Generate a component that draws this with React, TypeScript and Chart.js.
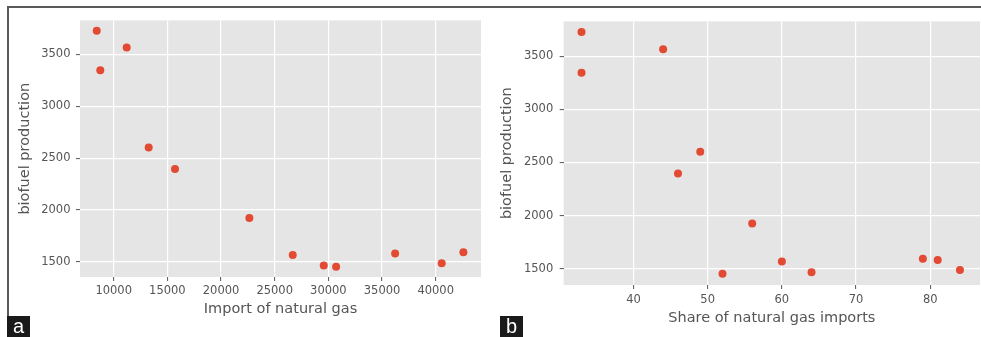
import React, { useEffect, useRef } from "react";
import { Chart, registerables } from "chart.js";

Chart.register(...registerables);

// ---- Data ----
const yValues = [3729, 3347, 3567, 2602, 2395, 1924, 1567, 1466, 1452, 1580, 1487, 1593];
const importGas = [8420, 8750, 11210, 13260, 15710, 22640, 26680, 29570, 30720, 36220, 40560, 42580];
const shareImports = [33, 33, 44, 49, 46, 56, 60, 64, 52, 81, 84, 79];

const xTicksA = [10000, 15000, 20000, 25000, 30000, 35000, 40000];
const xTicksB = [40, 50, 60, 70, 80];
const yTicks = [1500, 2000, 2500, 3000, 3500];

const xTitleA = "Import of natural gas";
const xTitleB = "Share of natural gas imports";
const yTitle = "biofuel production";

const BG = "#E5E5E5";
const DOT = "#E24A33";
const TXT = "#555555";
const FONT = "'DejaVu Sans', sans-serif";

const bgPlugin = {
  id: "ggbg",
  beforeDraw(chart: any) {
    const { ctx, chartArea } = chart;
    ctx.save();
    ctx.fillStyle = BG;
    ctx.fillRect(chartArea.left, chartArea.top, chartArea.right - chartArea.left, chartArea.bottom - chartArea.top);
    ctx.restore();
  },
};

type Cfg = {
  xs: number[];
  xTicks: number[];
  xMin: number;
  xMax: number;
  yMin: number;
  yMax: number;
  xTitle: string;
  padTop: number;
  padRight: number;
  yWidth: number;
  xHeight: number;
  xTitlePadBottom: number;
  xTickPad: number;
  yTickPad: number;
};

function makeChart(canvas: HTMLCanvasElement, c: Cfg) {
  return new Chart(canvas, {
    type: "scatter",
    data: {
      datasets: [
        {
          data: c.xs.map((x, i) => ({ x, y: yValues[i] })),
          backgroundColor: DOT,
          borderColor: DOT,
          borderWidth: 0,
          pointRadius: 4,
          pointHoverRadius: 4,
        },
      ],
    },
    options: {
      responsive: false,
      animation: false,
      devicePixelRatio: 1,
      layout: { autoPadding: false, padding: { top: c.padTop, right: c.padRight, left: 0, bottom: 0 } },
      plugins: { legend: { display: false }, tooltip: { enabled: false } },
      scales: {
        x: {
          type: "linear",
          min: c.xMin,
          max: c.xMax,
          afterBuildTicks: (s: any) => {
            s.ticks = c.xTicks.map((v) => ({ value: v }));
          },
          afterFit: (s: any) => {
            s.height = c.xHeight;
          },
          border: { display: false },
          grid: { color: "#FFFFFF", lineWidth: 1.2, tickColor: TXT, tickLength: 4, tickWidth: 1 },
          ticks: {
            autoSkip: false,
            maxRotation: 0,
            padding: c.xTickPad,
            color: TXT,
            font: { family: FONT, size: 11.5 },
            callback: (v: any) => String(v),
          },
          title: {
            display: true,
            text: c.xTitle,
            color: TXT,
            font: { family: FONT, size: 14.5 },
            padding: { top: 0, bottom: c.xTitlePadBottom },
          },
        },
        y: {
          type: "linear",
          min: c.yMin,
          max: c.yMax,
          afterBuildTicks: (s: any) => {
            s.ticks = yTicks.map((v) => ({ value: v }));
          },
          afterFit: (s: any) => {
            s.width = c.yWidth;
          },
          border: { display: false },
          grid: { color: "#FFFFFF", lineWidth: 1.2, tickColor: TXT, tickLength: 4, tickWidth: 1 },
          ticks: {
            autoSkip: false,
            padding: c.yTickPad,
            color: TXT,
            font: { family: FONT, size: 11.5 },
            callback: (v: any) => String(v),
          },
          title: {
            display: true,
            text: yTitle,
            color: TXT,
            font: { family: FONT, size: 14.5 },
            padding: { top: 8.3, bottom: 0 },
          },
        },
      },
    },
    plugins: [bgPlugin],
  } as any);
}

function Panel(props: { left: number; width: number; cfg: Cfg }) {
  const ref = useRef<HTMLCanvasElement>(null);
  useEffect(() => {
    if (!ref.current) return;
    const ch = makeChart(ref.current, props.cfg);
    return () => ch.destroy();
  }, []);
  return (
    <canvas
      ref={ref}
      width={props.width}
      height={329}
      style={{ position: "absolute", left: props.left, top: 8, width: props.width, height: 329 }}
    />
  );
}

const cfgA: Cfg = {
  xs: importGas,
  xTicks: xTicksA,
  xMin: 6860,
  xMax: 44220,
  yMin: 1354,
  yMax: 3828,
  xTitle: xTitleA,
  padTop: 10,
  padRight: 9,
  yWidth: 72,
  xHeight: 60,
  xTitlePadBottom: 19.3,
  xTickPad: 2.8,
  yTickPad: 5.5,
};

const cfgB: Cfg = {
  xs: shareImports,
  xTicks: xTicksB,
  xMin: 30.6,
  xMax: 86.7,
  yMin: 1345,
  yMax: 3830,
  xTitle: xTitleB,
  padTop: 8.7,
  padRight: 1,
  yWidth: 73.7,
  xHeight: 52,
  xTitlePadBottom: 10.5,
  xTickPad: 3.7,
  yTickPad: 6.5,
};

const labelBox = (left: number, text: string) => (
  <div
    style={{
      position: "absolute",
      left,
      top: 316,
      width: 23,
      height: 21,
      background: "#1A1A1A",
      color: "#FFFFFF",
      fontFamily: "'Liberation Sans', Arial, sans-serif",
      fontSize: 20,
      lineHeight: "20px",
      textAlign: "center",
    }}
  >
    {text}
  </div>
);

export default function App() {
  return (
    <div style={{ position: "relative", width: 981, height: 337, background: "#FFFFFF", overflow: "hidden" }}>
      <style>{`body{margin:0}`}</style>
      <div style={{ position: "absolute", left: 7, top: 6, width: 974, height: 1.5, background: "#5A5A5A" }} />
      <div style={{ position: "absolute", left: 7, top: 6, width: 1.5, height: 311, background: "#5A5A5A" }} />
      <Panel left={8} width={482} cfg={cfgA} />
      <Panel left={490} width={491} cfg={cfgB} />
      {labelBox(7, "a")}
      {labelBox(500, "b")}
    </div>
  );
}
